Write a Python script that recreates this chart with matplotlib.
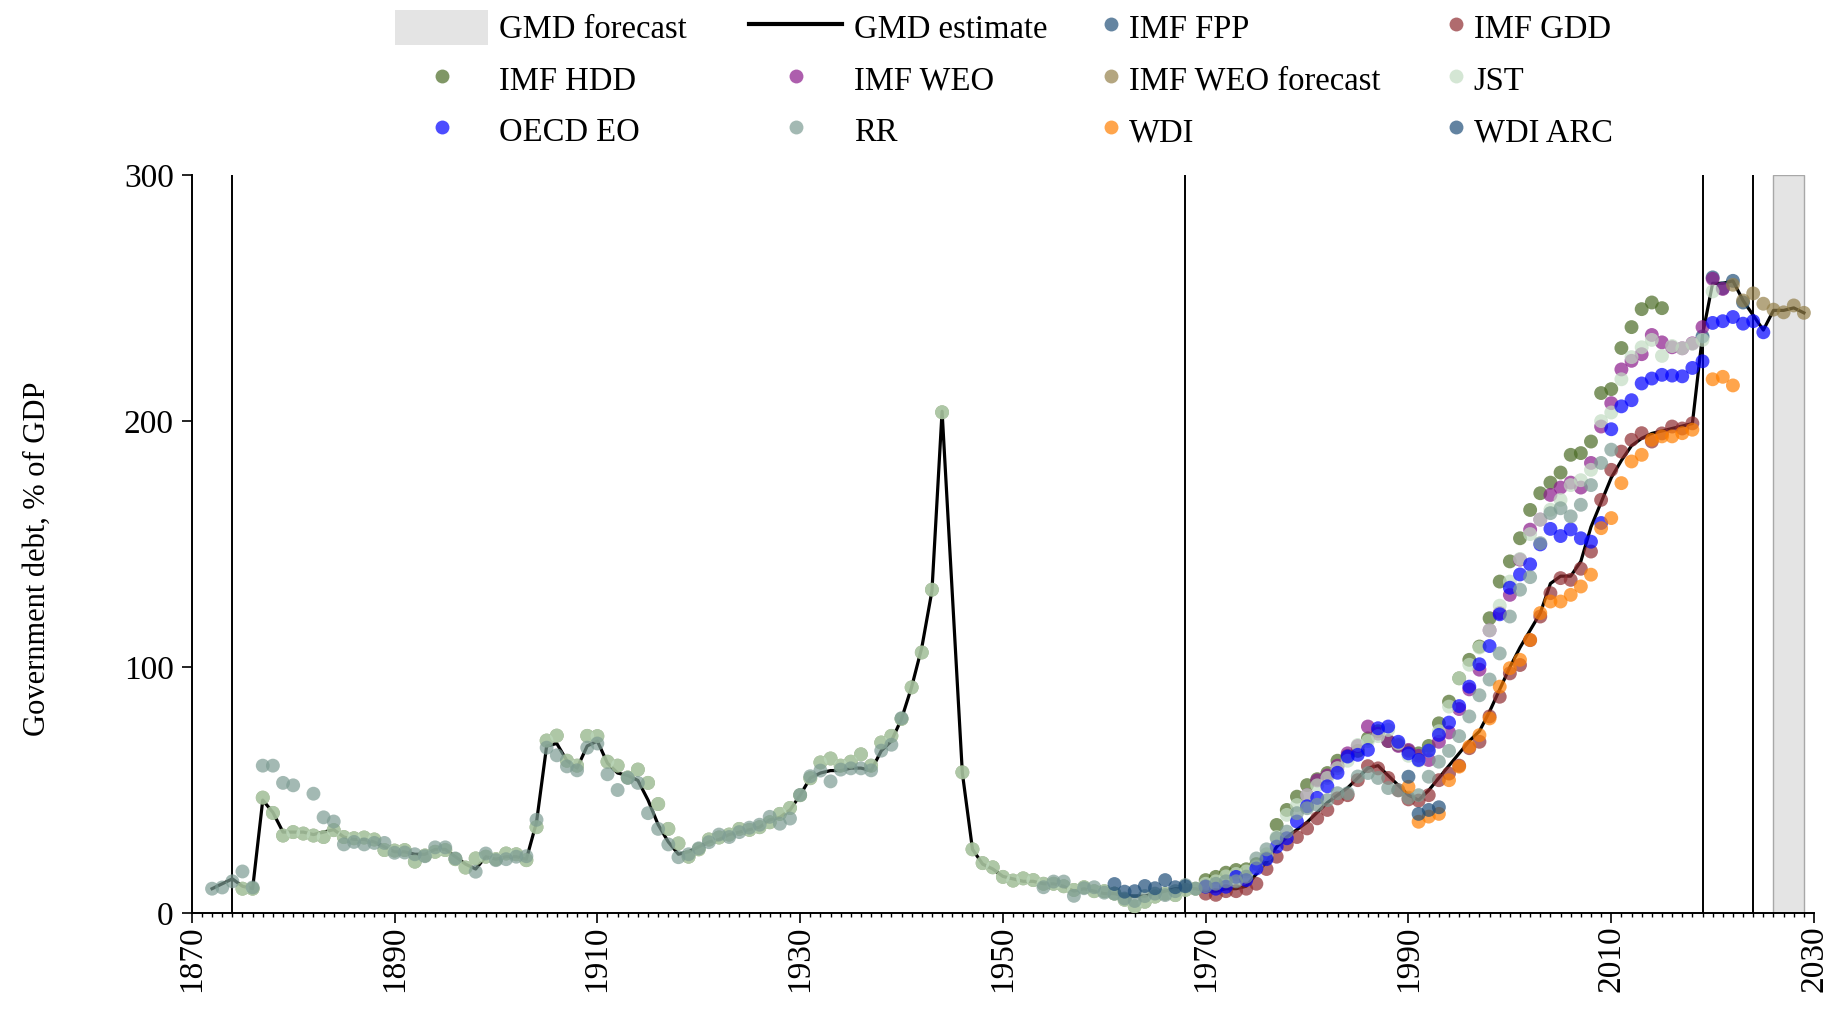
import numpy as np
import matplotlib.pyplot as plt
from matplotlib.lines import Line2D
from matplotlib.patches import Patch

plt.rcParams['font.family'] = ['Liberation Serif', 'DejaVu Serif']

# ---------------- data: Japan, government debt, % of GDP ----------------
gmd_years = list(range(1872, 1945)) + list(range(1946, 2030))
gmd_vals = [10, 12, 14, 11, 10, 46, 41, 33, 33, 33,
            32, 33, 34, 31, 30, 30, 29, 27, 25, 25,
            24, 24, 26, 26, 23, 20, 18, 23, 22, 23,
            23, 22, 37, 68, 69, 62, 59, 68, 70, 61,
            57, 56, 54, 46, 36, 29, 24, 25, 27, 29,
            30, 32, 33, 34, 35, 38, 39, 42, 48, 55,
            57, 58, 58, 59, 59, 58, 66, 70, 79, 92,
            108, 131, 204,
            57, 26, 20, 18, 15, 14, 13, 13, 12, 12,
            11, 9, 10, 9, 8, 8, 7, 7, 7, 8,
            9, 10, 10, 10, 9, 9, 10, 10, 11, 16,
            21, 27, 31, 34, 37, 41, 45, 48, 51, 55,
            59, 60, 56, 52, 48, 46, 50, 55, 60, 65,
            70, 74, 82, 91, 100, 108, 115, 122, 134, 137,
            137, 143, 157, 167, 177, 184, 190, 193, 195, 196,
            197, 198, 199, 235, 256, 256, 257, 249, 243, 237,
            245, 245, 246, 244]

# historical series shared by JST and IMF HDD (points overlap)
hist_years = list(range(1875, 1945)) + list(range(1946, 1970))
hist_vals = [10, 10, 47, 40.8, 31.6, 33, 32.4, 31.6, 31, 33.8,
             31, 30.5, 30.8, 30, 25.7, 25.5, 25.7, 21, 23.5, 25,
             25.7, 22, 18.6, 22.3, 23, 22, 24.3, 24, 21.6, 35,
             70.2, 72.2, 62, 60, 72.1, 72, 61.6, 60, 55.2, 58.4,
             53, 44.4, 34.3, 28.4, 23, 26, 30, 30.8, 32, 34.3,
             33.9, 35, 37, 40.4, 42.8, 48, 54.9, 61.3, 62.9, 60,
             61.6, 64.6, 60, 69.4, 72.1, 79, 91.8, 106, 131.5, 203.6,
             57.3, 26, 20.4, 18.7, 14.8, 13.3, 14.2, 13.5, 12, 12,
             11, 9.5, 10.6, 9, 9, 8, 5.5, 2.8, 4.7, 6.8,
             8, 7.4, 9.5, 10]

hdd_years = hist_years + list(range(1970, 2016))
hdd_vals = hist_vals + [13.5, 14.8, 16.5, 17.6, 17.9, 20, 22.4, 35.9, 42, 47.4,
                        52.1, 54.5, 57, 62, 64, 66, 71.1, 74, 70, 68.4,
                        66, 65, 68, 77.2, 86, 95.5, 103, 108.4, 119.9, 134.8,
                        143, 152.4, 163.9, 170.7, 175, 179.1, 186.3, 187, 191.7, 211.4,
                        213, 229.7, 238.2, 245.5, 248.2, 245.9]

jst_years = hist_years + list(range(1970, 2021))
jst_vals = hist_vals + [12, 13, 15, 16, 17, 19, 24, 31, 40, 44,
                        48, 52, 55, 59, 62, 68.4, 70, 72, 74.5, 69,
                        64, 62, 66, 74, 84, 95.5, 101, 108, 115, 125,
                        134.8, 144, 154.1, 160, 164, 168, 174, 176, 180.2, 200,
                        203.5, 217, 226, 230, 233, 226.5, 230.5, 229.6, 231.4, 233,
                        252.7]

rr_years = (list(range(1872, 1881)) + list(range(1882, 1897))
            + list(range(1898, 1941)) + list(range(1954, 2011)))
rr_vals = [10, 10.5, 13, 17, 10.5, 60, 60, 53, 52,
           48.6, 39, 37.3, 28, 29, 28, 28.6, 28.6, 24.6, 24.7, 24, 23.2, 26.8, 26.8, 22.3,
           16.9, 24.3, 21.6, 22, 23, 23.2, 38, 67.3, 64.2, 59.7,
           58.1, 67.3, 69, 56.5, 50.1, 55, 53, 40.7, 34.3, 28,
           22.8, 24, 26.4, 28.9, 32, 31, 33, 34.8, 36, 39.2,
           36.4, 38.5, 48.1, 55.7, 58, 53.6, 58.4, 58.9, 58.9, 58.1,
           66.1, 68.5, 79.3,
           10.6, 12.9, 12.9, 7.1, 10.2, 10.6, 8.4, 8, 6, 5,
           7, 8, 7.4, 9, 11.5, 10, 11, 12, 13, 13,
           14.9, 22.3, 26, 30.5, 33.2, 40.7, 42.7, 44.1, 46, 48.8,
           48.8, 55.6, 57, 55, 50.9, 50, 47, 48, 55.5, 61.6,
           66, 72, 80, 88.6, 95, 105.6, 120.6, 131.5, 136.6, 150.4,
           162.6, 164.6, 161.3, 166, 174, 183, 188.4]

weo_years = list(range(1980, 2022))
weo_vals = [48, 54, 56, 60, 65, 68, 75.9, 73, 70, 68,
            66.4, 64, 62.3, 69.7, 73.5, 83, 91, 99, 115, 122,
            129.4, 143.7, 155.9, 160, 170, 173, 175, 173, 183, 197.8,
            207.3, 221, 224.5, 227.2, 235, 232, 230, 229.6, 231.6, 238.2,
            257.8, 253.7]

weo_fc_years = list(range(2022, 2030))
weo_fc_vals = [255.4, 249, 251.9, 247.7, 245.3, 244.2, 247, 244]

oecd_years = list(range(1970, 2026))
oecd_vals = [10.8, 10, 10.8, 14.8, 13.5, 18.2, 22, 27.1, 30.5, 37.3,
             43.5, 46.9, 51.6, 57.1, 63.7, 64.4, 66.4, 75.2, 75.9, 69.7,
             65, 62.3, 66.1, 72.5, 77.5, 84.2, 92.1, 101.2, 108.6, 121.5,
             132.3, 137.7, 141.8, 149.9, 156.2, 153.3, 156, 152.4, 151, 158.6,
             196.7, 206, 208.5, 215.3, 217.3, 218.8, 218.5, 218.2, 221.6, 224.3,
             239.9, 240.6, 242.3, 239.6, 240.6, 236.1]

gdd_years = list(range(1970, 2019))
gdd_vals = [8, 7.5, 9, 9, 10, 12, 18, 23, 28, 31,
            34.5, 38.6, 42, 46.7, 48, 54.1, 59.8, 58.9, 55, 50,
            46.3, 45.8, 48, 54.1, 56.8, 60, 67.1, 69.7, 80, 88,
            97.5, 100.9, 111, 120.6, 130.1, 136.2, 135.5, 140, 147, 168,
            180.2, 187.6, 192.4, 195.1, 191.7, 195, 197.8, 197, 199.1]

wdi_years = list(range(1990, 2019)) + [2020, 2021, 2022]
wdi_vals = [51.4, 37.2, 39.3, 40.4, 54.1, 59.6, 67.7, 72.4, 79.2, 92.1,
            99.6, 103, 111.1, 122, 126.7, 126.7, 129.4, 132.8, 137.6, 156.5,
            160.6, 174.8, 183.6, 186.3, 192.4, 193.8, 193.8, 195.1, 196.5,
            217, 218, 214.5]

wdi_arc_years = list(range(1961, 1969)) + [1990, 1991, 1992, 1993]
wdi_arc_vals = [11.9, 8.8, 9, 11.1, 10.2, 13.5, 10.6, 11, 55.5, 40.4, 42, 43.1]

fpp_years = [2019, 2020, 2021, 2022, 2023]
fpp_vals = [234.4, 258.4, 254, 257, 248.2]

break_years = [1874, 1968, 2019, 2024]
forecast_span = (2026, 2029)

# ---------------- plotting ----------------
series = [
    ('IMF FPP', fpp_years, fpp_vals, '#24527a'),
    ('IMF GDD', gdd_years, gdd_vals, '#8f2d31'),
    ('IMF HDD', hdd_years, hdd_vals, '#4b6b25'),
    ('IMF WEO', weo_years, weo_vals, '#8b1a8b'),
    ('IMF WEO forecast', weo_fc_years, weo_fc_vals, '#94804a'),
    ('JST', jst_years, jst_vals, '#c2dcc2'),
    ('OECD EO', oecd_years, oecd_vals, '#0000ff'),
    ('RR', rr_years, rr_vals, '#7d9c93'),
    ('WDI', wdi_years, wdi_vals, '#ff7f00'),
    ('WDI ARC', wdi_arc_years, wdi_arc_vals, '#1f4e79'),
]
alpha = 0.7

fig = plt.figure(figsize=(18.37, 10.14), dpi=100)
ax = fig.add_axes([0.1044, 0.0993, 0.8831, 0.7281])

ax.axvspan(*forecast_span, facecolor='#e4e4e4', edgecolor='#a8a8a8', lw=1.0, zorder=0)
for yr in break_years:
    ax.axvline(yr, color='black', lw=1.4, zorder=1)

ax.plot(gmd_years, gmd_vals, color='black', lw=2.3, zorder=2)

handles = {}
for name, yrs, vals, col in series:
    ax.scatter(yrs, vals, s=100, color=col, alpha=alpha, edgecolors='none', zorder=3)
    handles[name] = Line2D([], [], ls='none', marker='o', markersize=10,
                           markerfacecolor=col, markeredgecolor='none', alpha=alpha)
handles['GMD forecast'] = Patch(facecolor='#e4e4e4', edgecolor='none')
handles['GMD estimate'] = Line2D([], [], color='black', lw=3)

ax.set_xlim(1870, 2030)
ax.set_ylim(0, 300)
ax.set_xticks(range(1870, 2031, 20))
ax.set_xticks(range(1870, 2031, 1), minor=True)
ax.set_yticks([0, 100, 200, 300])
ax.tick_params(axis='x', which='major', labelsize=24, length=7, width=1.2,
               pad=1.5, labelrotation=90)
ax.tick_params(axis='x', which='minor', length=3, width=1.0)
ax.tick_params(axis='y', which='major', labelsize=24, length=7, width=1.2, pad=6)
for s in ['top', 'right']:
    ax.spines[s].set_visible(False)
for s in ['left', 'bottom']:
    ax.spines[s].set_linewidth(1.4)

ax.set_ylabel('Government debt, % of GDP', fontsize=22)
ax.yaxis.set_label_coords(-0.086, 0.48)

# legend: two blocks so the key widths match the original layout
left_order = ['GMD forecast', 'IMF HDD', 'OECD EO', 'GMD estimate', 'IMF WEO', 'RR']
right_order = ['IMF FPP', 'IMF WEO forecast', 'WDI', 'IMF GDD', 'JST', 'WDI ARC']
common = dict(ncol=2, frameon=False, fontsize=23.5, borderpad=0, borderaxespad=0,
              loc='upper left', labelspacing=0.5, columnspacing=1.9)
fig.legend([handles[k] for k in left_order], left_order,
           bbox_to_anchor=(395 / 1837, 1 - 10 / 1014), handlelength=2.85,
           handleheight=1.25, handletextpad=0.35, **common)
fig.legend([handles[k] for k in right_order], right_order,
           bbox_to_anchor=(1098 / 1837, 1 - 10 / 1014), handlelength=0.8,
           handleheight=1.25, handletextpad=0.15, **common)

fig.savefig('out.png', dpi=100)
